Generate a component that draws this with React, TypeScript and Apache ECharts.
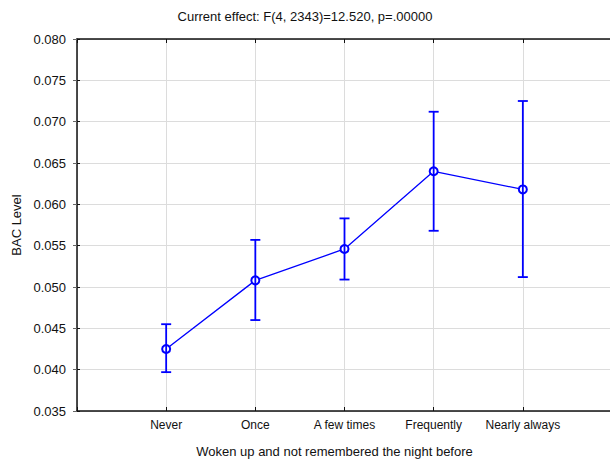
import React, { useEffect, useRef } from "react";
import * as echarts from "echarts";

const categories = ["Never", "Once", "A few times", "Frequently", "Nearly always"];
const means = [0.0425, 0.0508, 0.0546, 0.064, 0.0618];
const lowers = [0.0397, 0.046, 0.0509, 0.0568, 0.0512];
const uppers = [0.0455, 0.0557, 0.0583, 0.0712, 0.0725];
const yTicks = { min: 0.035, max: 0.08, interval: 0.005 };
const titleText = "Current effect: F(4, 2343)=12.520, p=.00000";
const xName = "Woken up and not remembered the night before";
const yName = "BAC Level";

const BLUE = "#0000ff";
const FONT = "Liberation Sans, Arial, sans-serif";

export default function App() {
  const ref = useRef<HTMLDivElement>(null);
  useEffect(() => {
    if (!ref.current) return;
    const chart = echarts.init(ref.current, null, { renderer: "svg" });
    const lineData = means.map((m, i) => [i + 1, m]);
    const errData = means.map((_, i) => [i + 1, lowers[i], uppers[i]]);
    const xLabel = (v: number) => categories[v - 1] ?? "";
    const axisLine = { show: true, lineStyle: { color: "#111", width: 1.5 } };
    const split = { show: true, lineStyle: { color: "#dcdcdc", width: 1 } };
    chart.setOption({
      animation: false,
      backgroundColor: "#fff",
      textStyle: { fontFamily: FONT },
      title: {
        text: titleText,
        left: "center",
        top: 10,
        padding: 0,
        textStyle: { fontSize: 13, fontWeight: "normal", color: "#111", fontFamily: FONT },
      },
      grid: { left: 77, top: 39, width: 535, height: 372, containLabel: false, outerBoundsMode: "none" },
      xAxis: [
        {
          type: "value",
          min: 0,
          max: 6,
          interval: 1,
          position: "bottom",
          axisLine,
          axisTick: { show: true, inside: true, length: 4, lineStyle: { color: "#111" } },
          splitLine: split,
          axisLabel: {
            formatter: xLabel,
            fontSize: 12,
            color: "#111",
            margin: 8,
            fontFamily: FONT,
            showMinLabel: true,
            showMaxLabel: true,
          },
          name: xName,
          nameLocation: "middle",
          nameGap: 34,
          nameTextStyle: { fontSize: 13, color: "#111", padding: [0, 20, 0, 0], fontFamily: FONT },
        },
        {
          type: "value",
          min: 0,
          max: 6,
          interval: 1,
          position: "top",
          axisLine,
          axisTick: { show: true, inside: true, length: 4, lineStyle: { color: "#111" } },
          splitLine: { show: false },
          axisLabel: { show: false },
        },
      ],
      yAxis: [
        {
          type: "value",
          min: yTicks.min,
          max: yTicks.max,
          interval: yTicks.interval,
          position: "left",
          axisLine,
          axisTick: { show: true, inside: true, length: 3, lineStyle: { color: "#111" } },
          splitLine: split,
          axisLabel: {
            formatter: (v: number) => v.toFixed(3),
            fontSize: 13,
            color: "#111",
            margin: 11,
            fontFamily: FONT,
          },
          name: yName,
          nameLocation: "middle",
          nameGap: 54,
          nameTextStyle: { fontSize: 13, color: "#111", fontFamily: FONT },
        },
        {
          type: "value",
          min: yTicks.min,
          max: yTicks.max,
          interval: yTicks.interval,
          position: "right",
          axisLine: { show: false },
          axisTick: { show: true, inside: true, length: 4, lineStyle: { color: "#666" } },
          splitLine: { show: false },
          axisLabel: { show: false },
        },
      ],
      series: [
        {
          type: "line",
          data: lineData,
          xAxisIndex: 0,
          yAxisIndex: 0,
          symbol: "emptyCircle",
          symbolSize: 8,
          lineStyle: { color: BLUE, width: 1.3 },
          itemStyle: { color: BLUE, borderColor: BLUE, borderWidth: 1.4 },
          z: 3,
        },
        {
          type: "custom",
          xAxisIndex: 0,
          yAxisIndex: 0,
          data: errData,
          z: 4,
          renderItem: (params: any, api: any) => {
            const x = api.value(0);
            const lo = api.coord([x, api.value(1)]);
            const hi = api.coord([x, api.value(2)]);
            const hw = 5;
            const style = { stroke: BLUE, lineWidth: 1.8, fill: "none" };
            return {
              type: "group",
              children: [
                { type: "line", shape: { x1: lo[0], y1: lo[1], x2: hi[0], y2: hi[1] }, style },
                { type: "line", shape: { x1: lo[0] - hw, y1: lo[1], x2: lo[0] + hw, y2: lo[1] }, style },
                { type: "line", shape: { x1: hi[0] - hw, y1: hi[1], x2: hi[0] + hw, y2: hi[1] }, style },
              ],
            };
          },
        },
      ],
    });
    return () => chart.dispose();
  }, []);
  return <div ref={ref} style={{ width: 610, height: 459, position: "absolute", left: 0, top: 0 }} />;
}
